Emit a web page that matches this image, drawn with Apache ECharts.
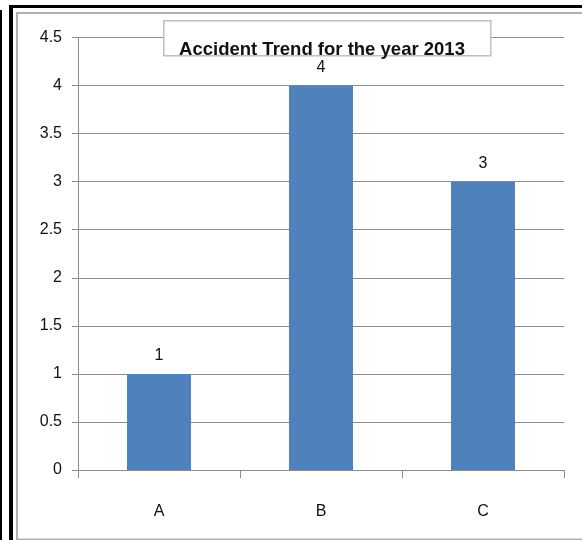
<!DOCTYPE html>
<html>
<head>
<meta charset="utf-8">
<script src="https://cdn.jsdelivr.net/npm/echarts@6/dist/echarts.min.js"></script>
<style>
  html, body { margin: 0; padding: 0; background: #fff; }
  #chart { width: 582px; height: 540px; }
</style>
</head>
<body>
<div id="chart"></div>
<script>
// Accident counts per category for 2013
const categories = ['A', 'B', 'C'];
const accidents = [1, 4, 3];
const titleText = 'Accident Trend for the year 2013';

const FONT = "'Liberation Sans Narrow', 'Liberation Sans', Arial, sans-serif";
const GRID_GRAY = '#8c8c8c';

const chart = echarts.init(document.getElementById('chart'), null, { renderer: 'canvas' });

chart.setOption({
  backgroundColor: '#fff',
  animation: false,
  grid: { left: 78, right: 18, top: 37.5, bottom: 70 },
  xAxis: {
    type: 'category',
    data: categories,
    boundaryGap: true,
    axisLine: { lineStyle: { color: GRID_GRAY, width: 1 } },
    axisTick: { show: true, length: 8, lineStyle: { color: GRID_GRAY } },
    axisLabel: { color: '#111', fontSize: 16, fontFamily: FONT, margin: 34 }
  },
  yAxis: {
    type: 'value',
    min: 0,
    max: 4.5,
    interval: 0.5,
    axisLine: { show: true, lineStyle: { color: GRID_GRAY, width: 1 } },
    axisTick: { show: true, length: 6, lineStyle: { color: GRID_GRAY } },
    splitLine: { show: true, lineStyle: { color: GRID_GRAY, width: 1 } },
    axisLabel: { color: '#111', fontSize: 16, fontFamily: FONT, margin: 16 }
  },
  series: [{
    type: 'bar',
    data: accidents,
    barWidth: 64,
    itemStyle: { color: '#4f81bd' },
    label: {
      show: true,
      position: 'top',
      distance: 10,
      color: '#111',
      fontSize: 16,
      fontFamily: FONT
    }
  }],
  graphic: [
    // outer frame strokes
    { type: 'rect', left: 0, top: 10, shape: { width: 2, height: 530 }, style: { fill: '#000' }, z: 100 },
    { type: 'rect', left: 9, top: 5, shape: { width: 4, height: 535 }, style: { fill: '#000' }, z: 100 },
    { type: 'rect', left: 9, top: 5, shape: { width: 573, height: 3 }, style: { fill: '#000' }, z: 100 },
    // inner chart-area border
    { type: 'rect', left: 14.5, top: 10.5, shape: { width: 580, height: 526.5 },
      style: { fill: null, stroke: '#b0b0b0', lineWidth: 2 }, z: 99 },
    // title box over the top gridline
    { type: 'rect', left: 163, top: 20, shape: { width: 327, height: 35 },
      style: { fill: '#fff', stroke: '#c0c0c0', lineWidth: 1.5 }, z: 101 },
    { type: 'text', x: 322, y: 50, z: 102,
      style: { text: titleText, fill: '#111', font: 'bold 18.5px ' + FONT,
               textAlign: 'center', textVerticalAlign: 'middle' } }
  ]
});
</script>
</body>
</html>
